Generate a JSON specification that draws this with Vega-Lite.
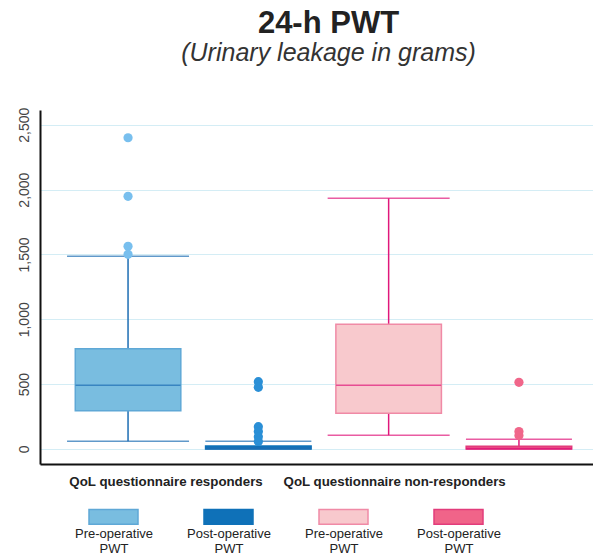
{
  "$schema": "https://vega.github.io/schema/vega-lite/v6.json",
  "width": 553,
  "height": 354,
  "autosize": {"type": "none"},
  "padding": {"left": 40, "top": 110, "right": 0, "bottom": 91},
  "background": "white",
  "title": {
    "text": "24-h PWT",
    "subtitle": "(Urinary leakage in grams)",
    "anchor": "middle",
    "frame": "group",
    "dx": 12,
    "offset": 40,
    "font": "Liberation Sans",
    "fontSize": 31,
    "fontWeight": "bold",
    "color": "#222222",
    "subtitleFont": "Liberation Sans",
    "subtitleFontSize": 25,
    "subtitleFontStyle": "italic",
    "subtitleColor": "#333333",
    "subtitlePadding": 1
  },
  "datasets": {
    "summary": [
      {"cat": "RPre", "lower": 59, "q1": 295, "median": 491, "q3": 773, "upper": 1486},
      {"cat": "RPost", "lower": 0, "q1": 0, "median": 8, "q3": 23, "upper": 60},
      {"cat": "NPre", "lower": 106, "q1": 275, "median": 491, "q3": 961, "upper": 1933},
      {"cat": "NPost", "lower": 0, "q1": 0, "median": 5, "q3": 21, "upper": 75}
    ],
    "outliers": [
      {"cat": "RPre", "value": 2400},
      {"cat": "RPre", "value": 1948},
      {"cat": "RPre", "value": 1563},
      {"cat": "RPre", "value": 1501},
      {"cat": "RPost", "value": 519},
      {"cat": "RPost", "value": 475},
      {"cat": "RPost", "value": 172},
      {"cat": "RPost", "value": 134},
      {"cat": "RPost", "value": 95},
      {"cat": "RPost", "value": 58},
      {"cat": "NPost", "value": 514},
      {"cat": "NPost", "value": 134},
      {"cat": "NPost", "value": 103}
    ]
  },
  "layer": [
    {
      "data": {"name": "summary"},
      "mark": {"type": "rule", "strokeWidth": 1.5},
      "encoding": {
        "x": {
          "field": "cat", "type": "nominal",
          "sort": ["RPre", "RPost", "NPre", "NPost"],
          "scale": {"type": "band", "paddingInner": 0, "paddingOuter": 0.122, "align": 0.72},
          "axis": {
            "title": null,
            "ticks": false,
            "grid": false,
            "domainColor": "#111111",
            "domainWidth": 2,
            "labelExpr": "datum.value == 'RPre' ? 'QoL questionnaire responders' : (datum.value == 'NPre' ? 'QoL questionnaire non-responders' : '')",
            "labelFont": "Liberation Sans",
            "labelFontWeight": "bold",
            "labelFontSize": 13.3,
            "labelColor": "#222222",
            "labelPadding": 10,
            "labelLimit": 0,
            "labelAngle": 0,
            "labelOverlap": false,
            "labelBound": false,
            "labelOffset": {"condition": {"test": "datum.value == 'RPre'", "value": 38}, "value": 6}
          }
        },
        "y": {
          "field": "lower", "type": "quantitative",
          "scale": {"domain": [-116, 2614], "nice": false, "zero": false},
          "axis": {
            "title": null,
            "values": [0, 500, 1000, 1500, 2000, 2500],
            "labelExpr": "format(datum.value, ',')",
            "labelAngle": -90,
            "ticks": false,
            "labelPadding": 9,
            "grid": true,
            "gridColor": "#d4edf5",
            "gridWidth": 1,
            "domainColor": "#111111",
            "domainWidth": 2,
            "labelFont": "Liberation Sans",
            "labelFontSize": 14,
            "labelColor": "#444444"
          }
        },
        "y2": {"field": "upper"},
        "color": {"condition": {"test": "datum.cat == 'RPre' || datum.cat == 'RPost'", "value": "#1d6db3"}, "value": "#e0177b"}
      }
    },
    {
      "data": {"name": "summary"},
      "mark": {"type": "bar", "width": {"band": 0.81}, "strokeWidth": 1.5, "opacity": 1},
      "encoding": {
        "x": {"field": "cat", "type": "nominal", "sort": ["RPre", "RPost", "NPre", "NPost"]},
        "y": {"field": "q1", "type": "quantitative"},
        "y2": {"field": "q3"},
        "fill": {
          "field": "cat", "type": "nominal",
          "scale": {"domain": ["RPre", "RPost", "NPre", "NPost"], "range": ["#79bde0", "#0f71b8", "#f8c9cd", "#f06489"]},
          "legend": {
            "orient": "none",
            "legendX": 48,
            "legendY": 392,
            "direction": "horizontal",
            "columns": 4,
            "title": null,
            "symbolType": "M-1,-0.75H1V-0.14H-1Z",
            "symbolSize": 2401,
            "symbolStrokeWidth": 1.5,
            "symbolOpacity": 1,
            "labelAlign": "center",
            "labelBaseline": "top",
            "labelOffset": -25,
            "labelFont": "Liberation Sans",
            "labelFontSize": 13,
            "labelColor": "#222222",
            "labelLimit": 0,
            "gridAlign": "all",
            "columnPadding": 31,
            "labelExpr": "(datum.value == 'RPre' || datum.value == 'NPre') ? ['Pre-operative', 'PWT'] : ['Post-operative', 'PWT']"
          }
        },
        "stroke": {
          "field": "cat", "type": "nominal",
          "scale": {"domain": ["RPre", "RPost", "NPre", "NPost"], "range": ["#5fa8d6", "#0f71b8", "#f08aa6", "#e23c7b"]}
        }
      }
    },
    {
      "data": {"name": "summary"},
      "mark": {"type": "tick", "thickness": 1.5, "size": 105},
      "encoding": {
        "x": {"field": "cat", "type": "nominal", "sort": ["RPre", "RPost", "NPre", "NPost"]},
        "y": {"field": "median", "type": "quantitative"},
        "color": {"condition": {"test": "datum.cat == 'RPre' || datum.cat == 'RPost'", "value": "#1d6db3"}, "value": "#e0177b"}
      }
    },
    {
      "data": {"name": "summary"},
      "mark": {"type": "tick", "thickness": 1.5},
      "encoding": {
        "x": {"field": "cat", "type": "nominal", "sort": ["RPre", "RPost", "NPre", "NPost"]},
        "y": {"field": "upper", "type": "quantitative"},
        "size": {"condition": {"test": "datum.cat == 'RPre' || datum.cat == 'NPre'", "value": 122}, "value": 106},
        "color": {"condition": {"test": "datum.cat == 'RPre' || datum.cat == 'RPost'", "value": "#1d6db3"}, "value": "#e0177b"}
      }
    },
    {
      "data": {"name": "summary"},
      "mark": {"type": "tick", "thickness": 1.5},
      "encoding": {
        "x": {"field": "cat", "type": "nominal", "sort": ["RPre", "RPost", "NPre", "NPost"]},
        "y": {"field": "lower", "type": "quantitative"},
        "size": {"condition": {"test": "datum.cat == 'RPre' || datum.cat == 'NPre'", "value": 122}, "value": 106},
        "color": {"condition": {"test": "datum.cat == 'RPre' || datum.cat == 'RPost'", "value": "#1d6db3"}, "value": "#e0177b"}
      }
    },
    {
      "data": {"name": "outliers"},
      "mark": {"type": "circle", "size": 85, "opacity": 1},
      "encoding": {
        "x": {"field": "cat", "type": "nominal", "sort": ["RPre", "RPost", "NPre", "NPost"]},
        "y": {"field": "value", "type": "quantitative"},
        "color": {
          "condition": [
            {"test": "datum.cat == 'RPre'", "value": "#78bfee"},
            {"test": "datum.cat == 'RPost'", "value": "#2a8fd6"}
          ],
          "value": "#f0668a"
        }
      }
    }
  ],
  "config": {
    "view": {"stroke": null},
    "font": "Liberation Sans"
  }
}
